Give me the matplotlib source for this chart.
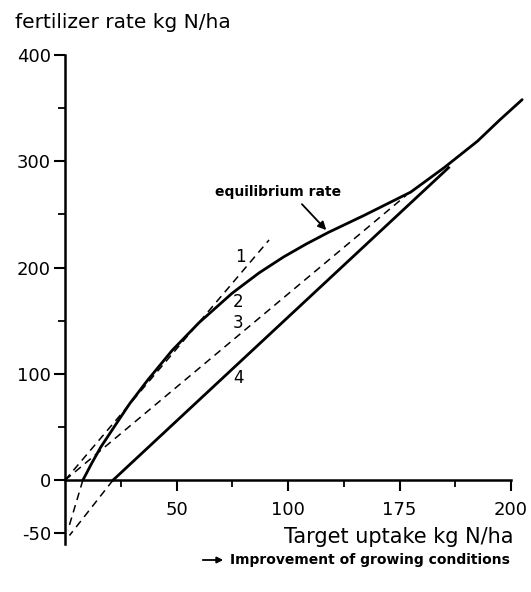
import matplotlib
matplotlib.use("Agg")
import matplotlib.pyplot as plt

# ---- data ----
eq_x = [8, 12, 16, 22, 29, 37, 48, 60, 75, 87, 98, 108, 118, 134, 155, 170, 185, 195, 205]
eq_y = [0, 16, 31, 50, 72, 94, 122, 148, 176, 195, 210, 222, 233, 249, 271, 294, 319, 339, 358]

eq_ext_x = [8, 1.3]          # dashed extension below zero
eq_ext_y = [0, -47]

line1_x = [0, 91.5]           # dashed tangent "1"
line1_y = [0, 226]

line3_x = [0, 153]            # dashed "3"
line3_y = [0, 268]

line4_x = [21.5, 172]         # solid "4"
line4_y = [0, 294]

line4_ext_x = [21.5, 2]       # dashed extension below zero
line4_ext_y = [0, -52]

xticks = [50, 100, 150, 200]
xticklabels = ["50", "100", "175", "200"]
xminor = [25, 75, 125, 175]
yticks = [-50, 0, 100, 200, 300, 400]
yticklabels = ["-50", "0", "100", "200", "300", "400"]
yminor = [50, 150, 250, 350]

curve_labels = [("1", 78.5, 210), ("2", 77.6, 167.5), ("3", 77.6, 148), ("4", 77.6, 96)]

# ---- figure ----
W, H = 531, 592
fig = plt.figure(figsize=(W / 100, H / 100), dpi=100)
ax = fig.add_axes([65 / W, 1 - 544 / H, 446 / W, (544 - 55) / H])
ax.set_xlim(0, 200)
ax.set_ylim(-60, 400)

for s in ("top", "right"):
    ax.spines[s].set_visible(False)
ax.spines["bottom"].set_position(("data", 0))
ax.spines["left"].set_linewidth(1.8)
ax.spines["bottom"].set_linewidth(1.8)

ax.set_xticks(xticks)
ax.set_xticklabels(xticklabels)
ax.set_xticks(xminor, minor=True)
ax.set_yticks(yticks)
ax.set_yticklabels(yticklabels)
ax.set_yticks(yminor, minor=True)
ax.tick_params(axis="both", which="major", direction="out", length=8, width=1.5,
               labelsize=13)
ax.tick_params(axis="both", which="minor", direction="out", length=5, width=1.3)
ax.tick_params(axis="x", which="major", pad=7)
ax.tick_params(axis="y", which="major", pad=2)

lw_solid = 2.0
dash_kw = dict(color="black", lw=1.1, dashes=(5, 3.5), clip_on=False)

ax.plot(eq_x, eq_y, color="black", lw=lw_solid, clip_on=False, solid_capstyle="round")
ax.plot(line4_x, line4_y, color="black", lw=lw_solid, clip_on=False)
ax.plot(line1_x, line1_y, **dash_kw)
ax.plot(line3_x, line3_y, **dash_kw)
ax.plot(eq_ext_x, eq_ext_y, **dash_kw)
ax.plot(line4_ext_x, line4_ext_y, **dash_kw)

for t, x, y in curve_labels:
    ax.text(x, y, t, fontsize=12, ha="center", va="center")

ax.text(95.5, 271, "equilibrium rate", fontsize=10, fontweight="bold",
        ha="center", va="center")
ax.annotate("", xy=(118, 233.4), xytext=(105.4, 261.6),
            arrowprops=dict(arrowstyle="-|>", color="black", lw=1.3,
                            mutation_scale=12))

# axis titles
fig.text(15 / W, 1 - 22 / H, "fertilizer rate kg N/ha", fontsize=14.5,
         ha="left", va="center")
fig.text(513 / W, 1 - 537 / H, "Target uptake kg N/ha", fontsize=15,
         ha="right", va="center")

# legend-like note
fig.patches.append(matplotlib.patches.FancyArrowPatch(
    (200 / W, 1 - 560 / H), (226 / W, 1 - 560 / H), transform=fig.transFigure,
    arrowstyle="-|>", mutation_scale=9, color="black", lw=1.3))
fig.text(230 / W, 1 - 560 / H, "Improvement of growing conditions", fontsize=10,
         fontweight="bold", ha="left", va="center")

fig.savefig("out.png", dpi=100)
